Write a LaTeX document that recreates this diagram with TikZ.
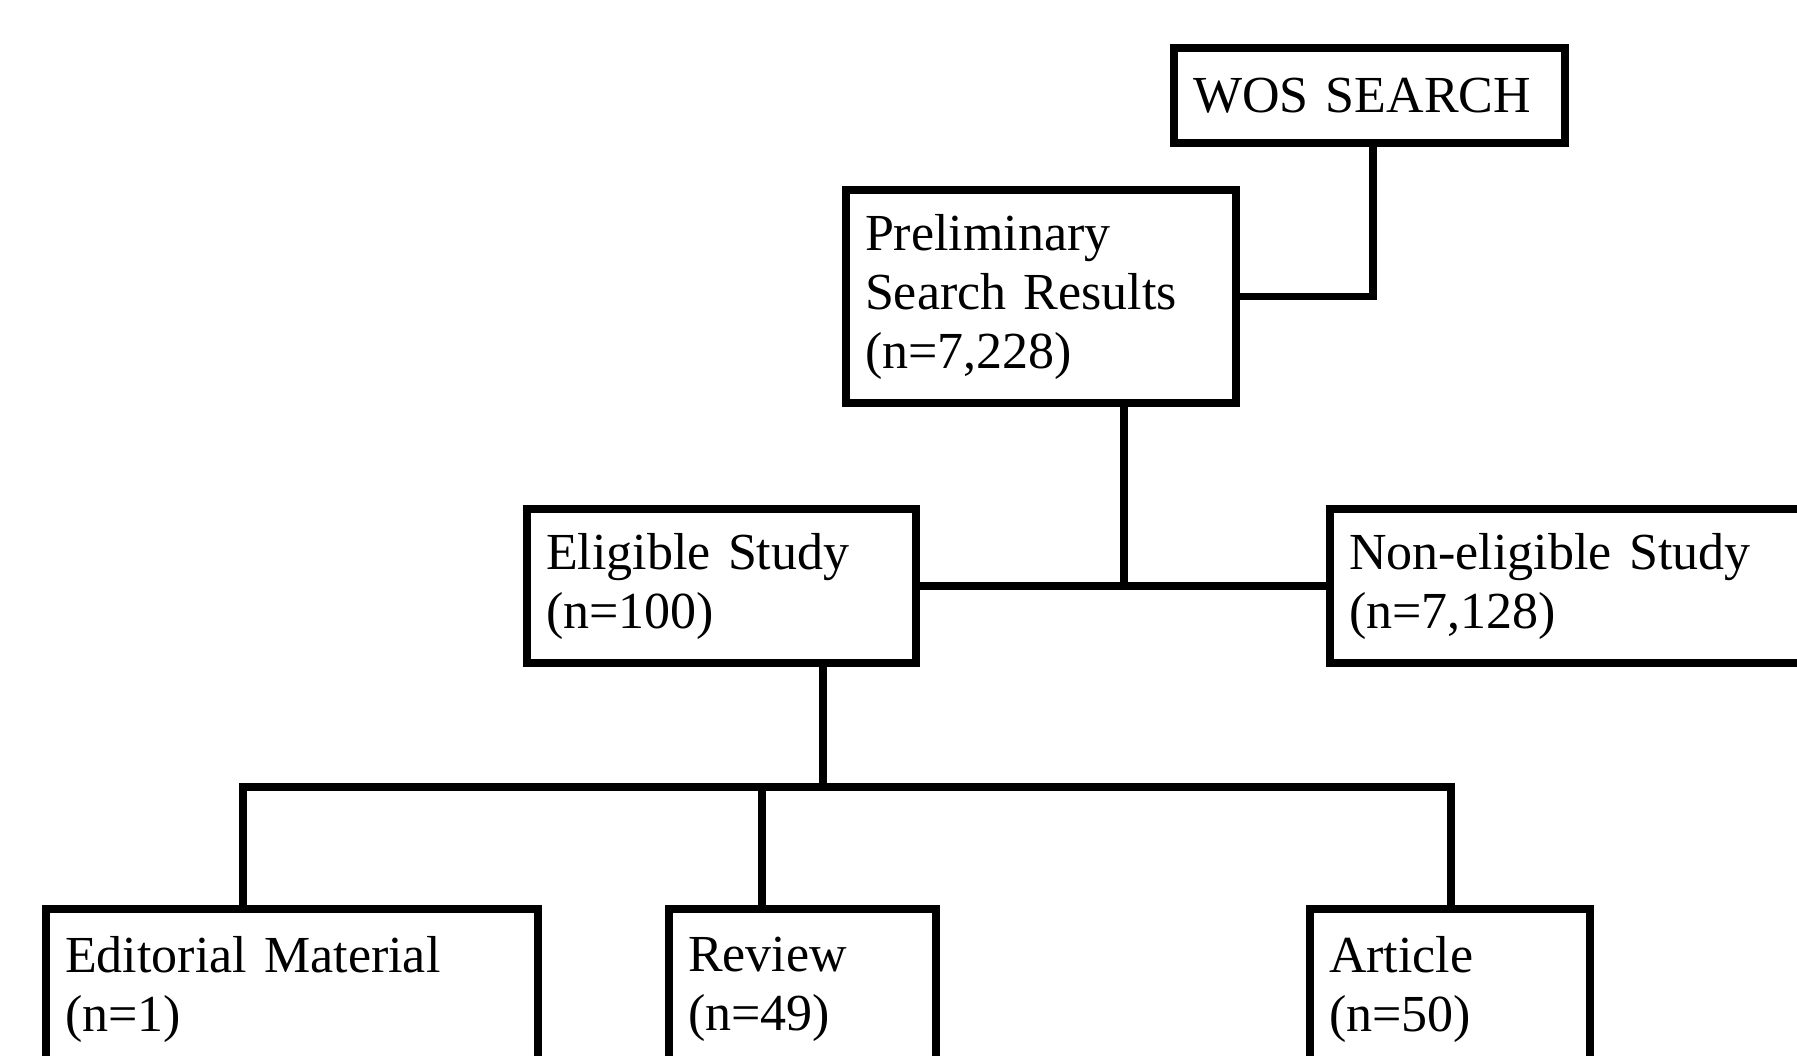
\documentclass[tikz,border=0pt]{standalone}
\usepackage{fontspec}
\setmainfont{Liberation Serif}
\begin{document}
\begin{tikzpicture}[x=1pt,y=-1pt,
  box/.style={draw, line width=8pt, rectangle, align=left, inner xsep=19pt, inner ysep=0pt,
    font=\fontsize{52}{59}\selectfont, anchor=center},
  conn/.style={line width=7.5pt, line join=miter}]
\useasboundingbox (0,0) rectangle (1797,1056);
\clip (0,0) rectangle (1797,1056);
\fill[white] (0,0) rectangle (1797,1056);
\node[box, text width=353pt, minimum height=95pt] (wos) at (1369.5,95.5) {WOS SEARCH};
\node[box, text width=352pt, minimum height=213pt] (prelim) at (1041,296.5) {Preliminary\\Search Results\\(n=7,228)};
\node[box, text width=351pt, minimum height=154pt] (elig) at (721.5,586) {Eligible Study\\(n=100)};
\node[box, text width=482pt, minimum height=154pt] (nonel) at (1590,586) {Non-eligible Study\\(n=7,128)};
\node[box, text width=454pt, minimum height=160pt] (edit) at (292,989) {Editorial Material\\(n=1)};
\node[box, text width=229pt, minimum height=160pt] (review) at (802.5,989) {Review\\(n=49)};
\node[box, text width=242pt, minimum height=160pt] (article) at (1450,989) {Article\\(n=50)};
\coordinate (j1) at (1124,586);
\coordinate (j2) at (823,787);
\coordinate (bl) at (243,787);
\coordinate (bm) at (762,787);
\coordinate (br) at (1451,787);
\draw[conn] (wos.south -| 1373,0) |- (prelim.east);
\draw[conn] (prelim.south -| j1) -- (j1);
\draw[conn] (elig.east) -- (nonel.west);
\draw[conn] (elig.south -| j2) -- (j2);
\draw[conn] (edit.north -| bl) -- (bl) -- (br) -- (article.north -| br);
\draw[conn] (review.north -| bm) -- (bm);
\end{tikzpicture}
\end{document}
